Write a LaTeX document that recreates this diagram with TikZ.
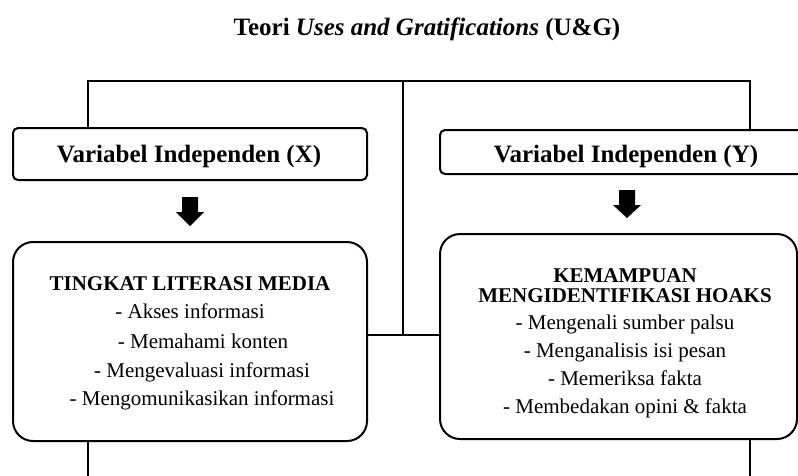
\documentclass[tikz,border=0pt]{standalone}
\usepackage{fontspec}
\setmainfont{Liberation Serif}
\begin{document}
\begin{tikzpicture}[x=1pt,y=-1pt,
  ln/.style={line width=2.2pt, line join=miter},
  hdrbox/.style={draw, line width=2pt, rounded corners=5pt, inner sep=0pt},
  bigbox/.style={draw, line width=2pt, rounded corners=20pt, inner sep=0pt},
  hdrtext/.style={font=\fontsize{25}{25}\selectfont\bfseries, anchor=base, inner sep=0pt},
  bt/.style={font=\fontsize{21}{21}\selectfont\bfseries, anchor=base, inner sep=0pt},
  tx/.style={font=\fontsize{21}{21}\selectfont, anchor=base, inner sep=0pt},
  blockarrow/.style={fill=black}]
\clip (0,0) rectangle (798,475);
% title
\node[hdrtext] (title) at (427,35) {Teori \textit{Uses and Gratifications} (U\&G)};
% header boxes
\node[hdrbox, minimum width=354pt, minimum height=52pt] (boxX) at (190,154) {};
\node[hdrtext] (boxXt) at (189,162) {Variabel Independen (X)};
\node[hdrbox, minimum width=372pt, minimum height=44pt] (boxY) at (626,152) {};
\node[hdrtext] (boxYt) at (626,162) {Variabel Independen (Y)};
% main boxes
\node[bigbox, minimum width=354pt, minimum height=199pt] (boxL) at (190,341.5) {};
\node[bigbox, minimum width=357pt, minimum height=205pt] (boxR) at (618.5,336.5) {};
% left box text
\node[bt] (l0) at (190,290) {TINGKAT LITERASI MEDIA};
\node[tx] (l1) at (190,318) {- Akses informasi};
\node[tx] (l2) at (203,348) {- Memahami konten};
\node[tx] (l3) at (202,377) {- Mengevaluasi informasi};
\node[tx] (l4) at (202,405) {- Mengomunikasikan informasi};
% right box text
\node[bt] (r0) at (625,282) {KEMAMPUAN};
\node[bt] (r1) at (625,302) {MENGIDENTIFIKASI HOAKS};
\node[tx] (r2) at (625,329) {- Mengenali sumber palsu};
\node[tx] (r3) at (625,357) {- Menganalisis isi pesan};
\node[tx] (r4) at (625,385) {- Memeriksa fakta};
\node[tx] (r5) at (625,413) {- Membedakan opini \& fakta};
% block arrows
\fill[blockarrow] (182,197) -- (198,197) -- (198,212) -- (204,212) -- (190,226) -- (176,212) -- (182,212) -- cycle;
\fill[blockarrow] (619,190) -- (635,190) -- (635,205) -- (641,205) -- (627,218) -- (613,205) -- (619,205) -- cycle;
% connectors
\coordinate (tl) at (88,81);
\coordinate (tr) at (750,81);
\coordinate (tc) at (403,81);
\coordinate (mid) at (403,335);
\coordinate (bl) at (88,480);
\coordinate (br) at (750,480);
\draw[ln] (boxX.north -| tl) -- (tl) -- (tr) -- (boxY.north -| tr);
\draw[ln] (tc) -- (mid);
\draw[ln] (boxL.east |- mid) -- (boxR.west |- mid);
\draw[ln] (boxL.south -| bl) -- (bl);
\draw[ln] (boxR.south -| br) -- (br);
\end{tikzpicture}
\end{document}
